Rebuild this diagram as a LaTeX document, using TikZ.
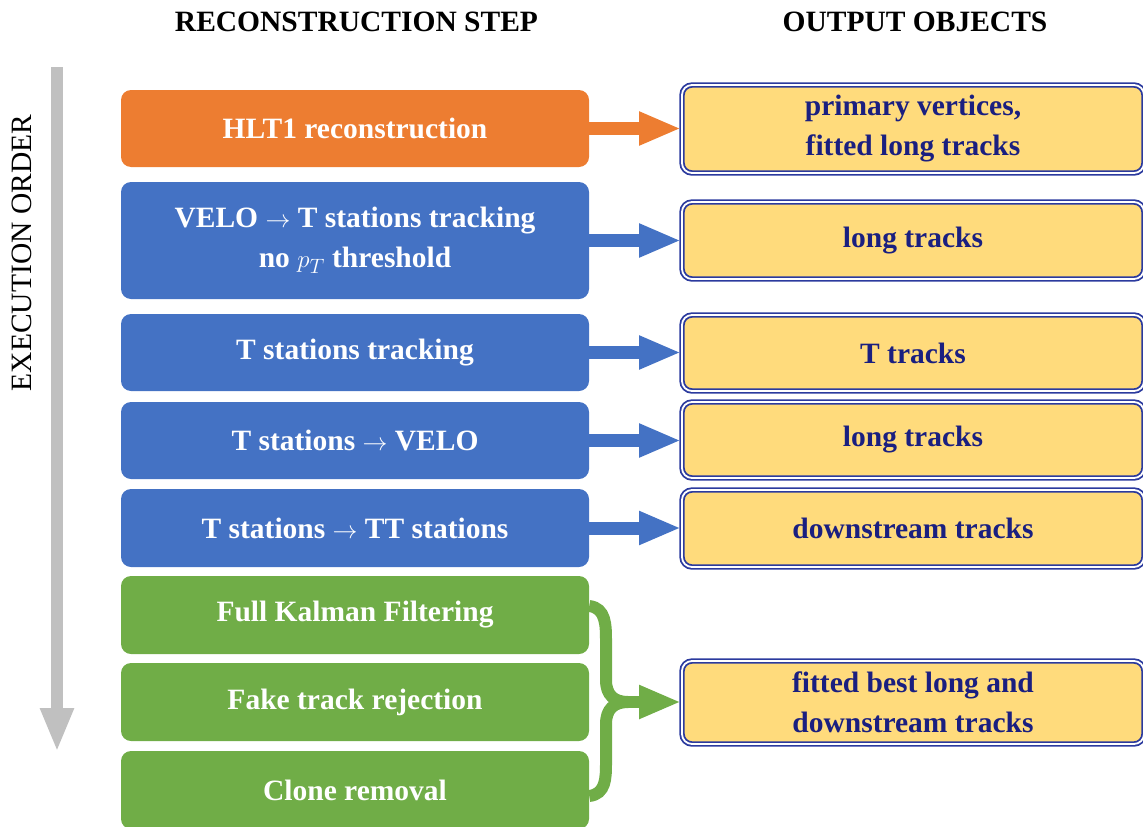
\documentclass[tikz,border=0pt]{standalone}
\usepackage{fontspec}
\setmainfont{Liberation Serif}
\usetikzlibrary{arrows.meta,calc}
\definecolor{cOrange}{HTML}{ED7D31}
\definecolor{cBlue}{HTML}{4472C4}
\definecolor{cGreen}{HTML}{70AD47}
\definecolor{cGray}{HTML}{C0C0C0}
\definecolor{cYellow}{HTML}{FFDB7C}
\definecolor{cNavy}{HTML}{2B3A9E}
\definecolor{cText}{HTML}{1A1F80}
\tikzset{
  stepbox/.style={rectangle, rounded corners=10pt, minimum width=468pt, inner sep=0pt,
    text=white, align=center, font=\fontsize{29.5}{40}\selectfont\bfseries},
  outbox/.style={rectangle, rounded corners=10pt, minimum width=462pt, inner sep=0pt,
    fill=cYellow, draw=cNavy, double=white, line width=1.8pt, double distance=1.8pt,
    text=cText, align=center, font=\fontsize{29.5}{40}\selectfont\bfseries},
  header/.style={font=\fontsize{29.5}{36}\selectfont\bfseries, text=black},
  flow/.style={line width=13pt, -{Triangle[length=42pt,width=31pt]}},
}
\begin{document}
\begin{tikzpicture}[x=1pt,y=-1pt]
\useasboundingbox (0,0) rectangle (1143,827);
\clip (0,0) rectangle (1143,827);
% headers
\node[header] (h1) at (356.5,22) {RECONSTRUCTION STEP};
\node[header] (h2) at (915,22) {OUTPUT OBJECTS};
% execution order
\node[rotate=90, font=\fontsize{29.5}{36}\selectfont, text=black] (exec) at (22,253) {EXECUTION ORDER};
\coordinate (gtop) at (57,67);
\coordinate (gbot) at (57,752);
\draw[cGray, line width=12pt, -{Triangle[length=44pt,width=31pt]}] (gtop) -- (gbot);
% left boxes
\node[stepbox, fill=cOrange, minimum height=77pt] (hlt) at (355,128.5) {HLT1 reconstruction};
\node[stepbox, fill=cBlue, minimum height=117pt] (velo) at (355,240.5) {VELO $\rightarrow$ T stations tracking\\no $p_T$ threshold};
\node[stepbox, fill=cBlue, minimum height=77pt] (tst) at (355,352.5) {T stations tracking};
\node[stepbox, fill=cBlue, minimum height=77pt] (tvelo) at (355,440.5) {T stations $\rightarrow$ VELO};
\node[stepbox, fill=cBlue, minimum height=78pt] (ttt) at (355,528) {T stations $\rightarrow$ TT stations};
\node[stepbox, fill=cGreen, minimum height=78pt] (kal) at (355,615) {Full Kalman Filtering};
\node[stepbox, fill=cGreen, minimum height=78pt] (fake) at (355,702) {Fake track rejection};
\node[stepbox, fill=cGreen, minimum height=78pt] (clone) at (355,790) {Clone removal};
% right boxes
\node[outbox, minimum height=88pt] (pv) at (913,129) {primary vertices,\\fitted long tracks};
\node[outbox, minimum height=77pt] (lt1) at (913,240.5) {long tracks};
\node[outbox, minimum height=76pt] (tt) at (913,353) {T tracks};
\node[outbox, minimum height=76pt] (lt2) at (913,440) {long tracks};
\node[outbox, minimum height=77pt] (ds) at (913,528.5) {downstream tracks};
\node[outbox, minimum height=83pt] (fb) at (913,702.5) {fitted best long and\\downstream tracks};
% arrows
\draw[flow, cOrange] (hlt.east) -- (hlt.east -| pv.west);
\draw[flow, cBlue] (velo.east) -- (velo.east -| lt1.west);
\draw[flow, cBlue] (tst.east) -- (tst.east -| tt.west);
\draw[flow, cBlue] (tvelo.east) -- (tvelo.east -| lt2.west);
\draw[flow, cBlue] (ttt.east) -- (ttt.east -| ds.west);
% green brace
\coordinate (bj) at (628,702);
\draw[cGreen, line width=12pt] ([yshift=9pt]kal.east) .. controls (606,608) and (606,625) .. (606,642) -- (606,680) .. controls (606,695) and (614,702) .. (bj);
\draw[cGreen, line width=12pt] ([yshift=-6pt]clone.east) .. controls (606,794) and (606,778) .. (606,762) -- (606,724) .. controls (606,709) and (614,702) .. (bj);
\draw[flow, cGreen, line width=12pt] (bj) -- (bj -| fb.west);
\end{tikzpicture}
\end{document}
